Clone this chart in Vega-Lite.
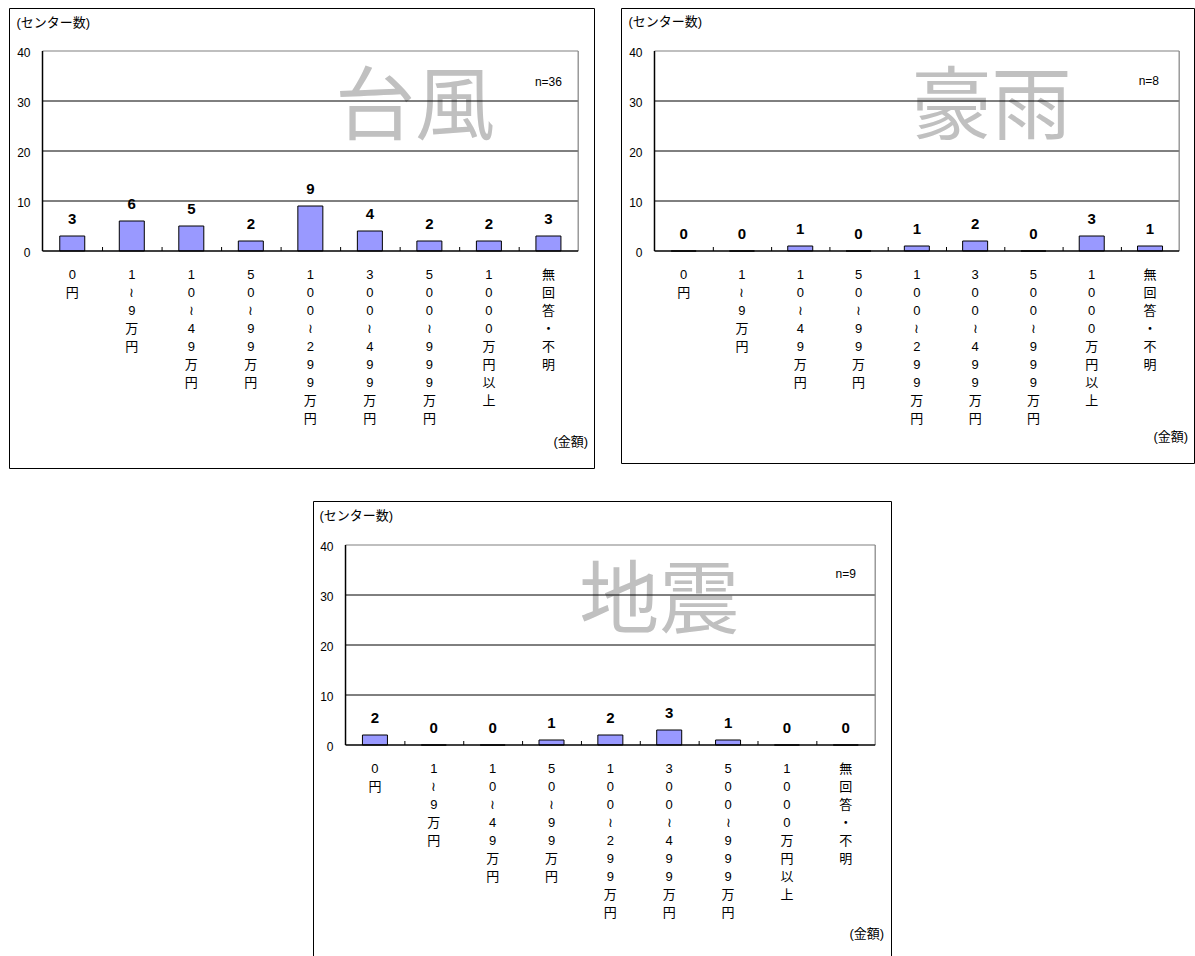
{
  "$schema": "https://vega.github.io/schema/vega-lite/v6.json",
  "background": "white",
  "padding": {"left": 8, "top": 7, "right": 2, "bottom": 0},
  "config": {
    "view": {"stroke": "#000", "strokeWidth": 1},
    "font": "Liberation Sans, Noto Sans CJK JP"
  },
  "datasets": {
    "bars": [
      {"hazard": "台風", "rank": 1, "cat": "0\n円", "count": 3},
      {"hazard": "台風", "rank": 2, "cat": "1\n≀\n9\n万\n円", "count": 6},
      {"hazard": "台風", "rank": 3, "cat": "1\n0\n≀\n4\n9\n万\n円", "count": 5},
      {"hazard": "台風", "rank": 4, "cat": "5\n0\n≀\n9\n9\n万\n円", "count": 2},
      {"hazard": "台風", "rank": 5, "cat": "1\n0\n0\n≀\n2\n9\n9\n万\n円", "count": 9},
      {"hazard": "台風", "rank": 6, "cat": "3\n0\n0\n≀\n4\n9\n9\n万\n円", "count": 4},
      {"hazard": "台風", "rank": 7, "cat": "5\n0\n0\n≀\n9\n9\n9\n万\n円", "count": 2},
      {"hazard": "台風", "rank": 8, "cat": "1\n0\n0\n0\n万\n円\n以\n上", "count": 2},
      {"hazard": "台風", "rank": 9, "cat": "無\n回\n答\n・\n不\n明", "count": 3},
      {"hazard": "豪雨", "rank": 1, "cat": "0\n円", "count": 0},
      {"hazard": "豪雨", "rank": 2, "cat": "1\n≀\n9\n万\n円", "count": 0},
      {"hazard": "豪雨", "rank": 3, "cat": "1\n0\n≀\n4\n9\n万\n円", "count": 1},
      {"hazard": "豪雨", "rank": 4, "cat": "5\n0\n≀\n9\n9\n万\n円", "count": 0},
      {"hazard": "豪雨", "rank": 5, "cat": "1\n0\n0\n≀\n2\n9\n9\n万\n円", "count": 1},
      {"hazard": "豪雨", "rank": 6, "cat": "3\n0\n0\n≀\n4\n9\n9\n万\n円", "count": 2},
      {"hazard": "豪雨", "rank": 7, "cat": "5\n0\n0\n≀\n9\n9\n9\n万\n円", "count": 0},
      {"hazard": "豪雨", "rank": 8, "cat": "1\n0\n0\n0\n万\n円\n以\n上", "count": 3},
      {"hazard": "豪雨", "rank": 9, "cat": "無\n回\n答\n・\n不\n明", "count": 1},
      {"hazard": "地震", "rank": 1, "cat": "0\n円", "count": 2},
      {"hazard": "地震", "rank": 2, "cat": "1\n≀\n9\n万\n円", "count": 0},
      {"hazard": "地震", "rank": 3, "cat": "1\n0\n≀\n4\n9\n万\n円", "count": 0},
      {"hazard": "地震", "rank": 4, "cat": "5\n0\n≀\n9\n9\n万\n円", "count": 1},
      {"hazard": "地震", "rank": 5, "cat": "1\n0\n0\n≀\n2\n9\n9\n万\n円", "count": 2},
      {"hazard": "地震", "rank": 6, "cat": "3\n0\n0\n≀\n4\n9\n9\n万\n円", "count": 3},
      {"hazard": "地震", "rank": 7, "cat": "5\n0\n0\n≀\n9\n9\n9\n万\n円", "count": 1},
      {"hazard": "地震", "rank": 8, "cat": "1\n0\n0\n0\n万\n円\n以\n上", "count": 0},
      {"hazard": "地震", "rank": 9, "cat": "無\n回\n答\n・\n不\n明", "count": 0}
    ],
    "yticks": [{"v": 0}, {"v": 10}, {"v": 20}, {"v": 30}, {"v": 40}]
  },
  "vconcat": [
    {
      "hconcat": [
        {
          "width": 585,
          "height": 460,
          "data": {"values": [{}]},
          "layer": [
            {"data": {"name": "bars"}, "transform": [{"filter": "datum.hazard === '台風' && datum.rank === 1"}],
             "mark": {"type": "text", "fontSize": 80, "color": "#c0c0c0", "align": "center", "baseline": "middle"},
             "encoding": {"x": {"datum": 6.76, "type": "quantitative", "scale": {"domain": [0.0211, 9.6817], "nice": false, "zero": false}, "axis": null},
                          "y": {"datum": 28.4, "type": "quantitative", "scale": {"domain": [-43.4, 48.6], "nice": false, "zero": false}, "axis": null},
                          "text": {"field": "hazard"}}},
            {"data": {"name": "yticks"}, "transform": [{"filter": "datum.v > 0 && datum.v < 40"}],
             "mark": {"type": "rule", "color": "#000", "strokeWidth": 1},
             "encoding": {"x": {"datum": 0.5, "type": "quantitative", "scale": {"domain": [0.0211, 9.6817], "nice": false, "zero": false}, "axis": null},
                          "x2": {"datum": 9.5},
                          "y": {"field": "v", "type": "quantitative", "scale": {"domain": [-43.4, 48.6], "nice": false, "zero": false}, "axis": null}}},
            {"mark": {"type": "rule", "color": "#808080", "strokeWidth": 1.2},
             "encoding": {"x": {"datum": 0.5, "type": "quantitative", "scale": {"domain": [0.0211, 9.6817], "nice": false, "zero": false}, "axis": null},
                          "x2": {"datum": 9.5},
                          "y": {"datum": 40, "type": "quantitative", "scale": {"domain": [-43.4, 48.6], "nice": false, "zero": false}, "axis": null}}},
            {"mark": {"type": "rule", "color": "#808080", "strokeWidth": 1.2},
             "encoding": {"x": {"datum": 9.5, "type": "quantitative", "scale": {"domain": [0.0211, 9.6817], "nice": false, "zero": false}, "axis": null},
                          "y": {"datum": 0, "type": "quantitative", "scale": {"domain": [-43.4, 48.6], "nice": false, "zero": false}, "axis": null},
                          "y2": {"datum": 40}}},
            {"data": {"name": "bars"}, "transform": [{"filter": "datum.hazard === '台風'"}],
             "mark": {"type": "bar", "width": 25, "fill": "#9999ff", "stroke": "#000", "strokeWidth": 1},
             "encoding": {"x": {"field": "rank", "type": "quantitative", "scale": {"domain": [0.0211, 9.6817], "nice": false, "zero": false}, "axis": null},
                          "y": {"field": "count", "type": "quantitative", "scale": {"domain": [-43.4, 48.6], "nice": false, "zero": false}, "axis": null},
                          "y2": {"datum": 0}}},
            {"mark": {"type": "rule", "color": "#000", "strokeWidth": 1.5},
             "encoding": {"x": {"datum": 0.5, "type": "quantitative", "scale": {"domain": [0.0211, 9.6817], "nice": false, "zero": false}, "axis": null},
                          "y": {"datum": 0, "type": "quantitative", "scale": {"domain": [-43.4, 48.6], "nice": false, "zero": false}, "axis": null},
                          "y2": {"datum": 40}}},
            {"mark": {"type": "rule", "color": "#000", "strokeWidth": 1.5},
             "encoding": {"x": {"datum": 0.5, "type": "quantitative", "scale": {"domain": [0.0211, 9.6817], "nice": false, "zero": false}, "axis": null},
                          "x2": {"datum": 9.5},
                          "y": {"datum": 0, "type": "quantitative", "scale": {"domain": [-43.4, 48.6], "nice": false, "zero": false}, "axis": null}}},
            {"data": {"name": "bars"}, "transform": [{"filter": "datum.hazard === '台風' && datum.rank < 9"}],
             "mark": {"type": "rule", "color": "#000", "strokeWidth": 1, "xOffset": 30.28},
             "encoding": {"x": {"field": "rank", "type": "quantitative", "scale": {"domain": [0.0211, 9.6817], "nice": false, "zero": false}, "axis": null},
                          "y": {"datum": 0, "type": "quantitative", "scale": {"domain": [-43.4, 48.6], "nice": false, "zero": false}, "axis": null},
                          "y2": {"datum": 0.8}}},
            {"data": {"name": "bars"}, "transform": [{"filter": "datum.hazard === '台風'"}],
             "mark": {"type": "text", "fontSize": 15, "fontWeight": "bold", "align": "center", "baseline": "alphabetic", "dy": -12, "color": "#000"},
             "encoding": {"x": {"field": "rank", "type": "quantitative", "scale": {"domain": [0.0211, 9.6817], "nice": false, "zero": false}, "axis": null},
                          "y": {"field": "count", "type": "quantitative", "scale": {"domain": [-43.4, 48.6], "nice": false, "zero": false}, "axis": null},
                          "text": {"field": "count", "type": "quantitative"}}},
            {"data": {"name": "bars"}, "transform": [{"filter": "datum.hazard === '台風'"}],
             "mark": {"type": "text", "fontSize": 13, "align": "center", "baseline": "top", "lineBreak": "\n", "lineHeight": 18, "dy": 17.5, "color": "#000"},
             "encoding": {"x": {"field": "rank", "type": "quantitative", "scale": {"domain": [0.0211, 9.6817], "nice": false, "zero": false}, "axis": null},
                          "y": {"datum": 0, "type": "quantitative", "scale": {"domain": [-43.4, 48.6], "nice": false, "zero": false}, "axis": null},
                          "text": {"field": "cat", "type": "nominal"}}},
            {"data": {"name": "yticks"},
             "mark": {"type": "text", "fontSize": 12, "align": "right", "baseline": "middle", "dx": -12, "dy": 2, "color": "#000"},
             "encoding": {"x": {"datum": 0.5, "type": "quantitative", "scale": {"domain": [0.0211, 9.6817], "nice": false, "zero": false}, "axis": null},
                          "y": {"field": "v", "type": "quantitative", "scale": {"domain": [-43.4, 48.6], "nice": false, "zero": false}, "axis": null},
                          "text": {"field": "v", "type": "quantitative"}}},
            {"mark": {"type": "text", "text": "(センター数)", "fontSize": 13, "align": "left", "baseline": "middle", "dx": -26, "color": "#000"},
             "encoding": {"x": {"datum": 0.5, "type": "quantitative", "scale": {"domain": [0.0211, 9.6817], "nice": false, "zero": false}, "axis": null},
                          "y": {"datum": 45.6, "type": "quantitative", "scale": {"domain": [-43.4, 48.6], "nice": false, "zero": false}, "axis": null}}},
            {"mark": {"type": "text", "text": "(金額)", "fontSize": 13, "align": "right", "baseline": "middle", "dx": 10, "color": "#000"},
             "encoding": {"x": {"datum": 9.5, "type": "quantitative", "scale": {"domain": [0.0211, 9.6817], "nice": false, "zero": false}, "axis": null},
                          "y": {"datum": -38.2, "type": "quantitative", "scale": {"domain": [-43.4, 48.6], "nice": false, "zero": false}, "axis": null}}},
            {"mark": {"type": "text", "text": "n=36", "fontSize": 12, "align": "center", "baseline": "middle", "color": "#000"},
             "encoding": {"x": {"datum": 9.0, "type": "quantitative", "scale": {"domain": [0.0211, 9.6817], "nice": false, "zero": false}, "axis": null},
                          "y": {"datum": 33.9, "type": "quantitative", "scale": {"domain": [-43.4, 48.6], "nice": false, "zero": false}, "axis": null}}}
          ]
        },
        {
          "width": 573,
          "height": 455,
          "data": {"values": [{}]},
          "layer": [
            {"data": {"name": "bars"}, "transform": [{"filter": "datum.hazard === '豪雨' && datum.rank === 1"}],
             "mark": {"type": "text", "fontSize": 80, "color": "#c0c0c0", "align": "center", "baseline": "middle"},
             "encoding": {"x": {"datum": 6.28, "type": "quantitative", "scale": {"domain": [0.01124, 9.66854], "nice": false, "zero": false}, "axis": null},
                          "y": {"datum": 28.4, "type": "quantitative", "scale": {"domain": [-42.4, 48.6], "nice": false, "zero": false}, "axis": null},
                          "text": {"field": "hazard"}}},
            {"data": {"name": "yticks"}, "transform": [{"filter": "datum.v > 0 && datum.v < 40"}],
             "mark": {"type": "rule", "color": "#000", "strokeWidth": 1},
             "encoding": {"x": {"datum": 0.5, "type": "quantitative", "scale": {"domain": [0.01124, 9.66854], "nice": false, "zero": false}, "axis": null},
                          "x2": {"datum": 9.5},
                          "y": {"field": "v", "type": "quantitative", "scale": {"domain": [-42.4, 48.6], "nice": false, "zero": false}, "axis": null}}},
            {"mark": {"type": "rule", "color": "#808080", "strokeWidth": 1.2},
             "encoding": {"x": {"datum": 0.5, "type": "quantitative", "scale": {"domain": [0.01124, 9.66854], "nice": false, "zero": false}, "axis": null},
                          "x2": {"datum": 9.5},
                          "y": {"datum": 40, "type": "quantitative", "scale": {"domain": [-42.4, 48.6], "nice": false, "zero": false}, "axis": null}}},
            {"mark": {"type": "rule", "color": "#808080", "strokeWidth": 1.2},
             "encoding": {"x": {"datum": 9.5, "type": "quantitative", "scale": {"domain": [0.01124, 9.66854], "nice": false, "zero": false}, "axis": null},
                          "y": {"datum": 0, "type": "quantitative", "scale": {"domain": [-42.4, 48.6], "nice": false, "zero": false}, "axis": null},
                          "y2": {"datum": 40}}},
            {"data": {"name": "bars"}, "transform": [{"filter": "datum.hazard === '豪雨'"}],
             "mark": {"type": "bar", "width": 25, "fill": "#9999ff", "stroke": "#000", "strokeWidth": 1},
             "encoding": {"x": {"field": "rank", "type": "quantitative", "scale": {"domain": [0.01124, 9.66854], "nice": false, "zero": false}, "axis": null},
                          "y": {"field": "count", "type": "quantitative", "scale": {"domain": [-42.4, 48.6], "nice": false, "zero": false}, "axis": null},
                          "y2": {"datum": 0}}},
            {"mark": {"type": "rule", "color": "#000", "strokeWidth": 1.5},
             "encoding": {"x": {"datum": 0.5, "type": "quantitative", "scale": {"domain": [0.01124, 9.66854], "nice": false, "zero": false}, "axis": null},
                          "y": {"datum": 0, "type": "quantitative", "scale": {"domain": [-42.4, 48.6], "nice": false, "zero": false}, "axis": null},
                          "y2": {"datum": 40}}},
            {"mark": {"type": "rule", "color": "#000", "strokeWidth": 1.5},
             "encoding": {"x": {"datum": 0.5, "type": "quantitative", "scale": {"domain": [0.01124, 9.66854], "nice": false, "zero": false}, "axis": null},
                          "x2": {"datum": 9.5},
                          "y": {"datum": 0, "type": "quantitative", "scale": {"domain": [-42.4, 48.6], "nice": false, "zero": false}, "axis": null}}},
            {"data": {"name": "bars"}, "transform": [{"filter": "datum.hazard === '豪雨' && datum.rank < 9"}],
             "mark": {"type": "rule", "color": "#000", "strokeWidth": 1, "xOffset": 29.67},
             "encoding": {"x": {"field": "rank", "type": "quantitative", "scale": {"domain": [0.01124, 9.66854], "nice": false, "zero": false}, "axis": null},
                          "y": {"datum": 0, "type": "quantitative", "scale": {"domain": [-42.4, 48.6], "nice": false, "zero": false}, "axis": null},
                          "y2": {"datum": 0.8}}},
            {"data": {"name": "bars"}, "transform": [{"filter": "datum.hazard === '豪雨'"}],
             "mark": {"type": "text", "fontSize": 15, "fontWeight": "bold", "align": "center", "baseline": "alphabetic", "dy": -12, "color": "#000"},
             "encoding": {"x": {"field": "rank", "type": "quantitative", "scale": {"domain": [0.01124, 9.66854], "nice": false, "zero": false}, "axis": null},
                          "y": {"field": "count", "type": "quantitative", "scale": {"domain": [-42.4, 48.6], "nice": false, "zero": false}, "axis": null},
                          "text": {"field": "count", "type": "quantitative"}}},
            {"data": {"name": "bars"}, "transform": [{"filter": "datum.hazard === '豪雨'"}],
             "mark": {"type": "text", "fontSize": 13, "align": "center", "baseline": "top", "lineBreak": "\n", "lineHeight": 18, "dy": 17.5, "color": "#000"},
             "encoding": {"x": {"field": "rank", "type": "quantitative", "scale": {"domain": [0.01124, 9.66854], "nice": false, "zero": false}, "axis": null},
                          "y": {"datum": 0, "type": "quantitative", "scale": {"domain": [-42.4, 48.6], "nice": false, "zero": false}, "axis": null},
                          "text": {"field": "cat", "type": "nominal"}}},
            {"data": {"name": "yticks"},
             "mark": {"type": "text", "fontSize": 12, "align": "right", "baseline": "middle", "dx": -12, "dy": 2, "color": "#000"},
             "encoding": {"x": {"datum": 0.5, "type": "quantitative", "scale": {"domain": [0.01124, 9.66854], "nice": false, "zero": false}, "axis": null},
                          "y": {"field": "v", "type": "quantitative", "scale": {"domain": [-42.4, 48.6], "nice": false, "zero": false}, "axis": null},
                          "text": {"field": "v", "type": "quantitative"}}},
            {"mark": {"type": "text", "text": "(センター数)", "fontSize": 13, "align": "left", "baseline": "middle", "dx": -26, "color": "#000"},
             "encoding": {"x": {"datum": 0.5, "type": "quantitative", "scale": {"domain": [0.01124, 9.66854], "nice": false, "zero": false}, "axis": null},
                          "y": {"datum": 45.8, "type": "quantitative", "scale": {"domain": [-42.4, 48.6], "nice": false, "zero": false}, "axis": null}}},
            {"mark": {"type": "text", "text": "(金額)", "fontSize": 13, "align": "right", "baseline": "middle", "dx": 9, "color": "#000"},
             "encoding": {"x": {"datum": 9.5, "type": "quantitative", "scale": {"domain": [0.01124, 9.66854], "nice": false, "zero": false}, "axis": null},
                          "y": {"datum": -37.2, "type": "quantitative", "scale": {"domain": [-42.4, 48.6], "nice": false, "zero": false}, "axis": null}}},
            {"mark": {"type": "text", "text": "n=8", "fontSize": 12, "align": "center", "baseline": "middle", "color": "#000"},
             "encoding": {"x": {"datum": 8.98, "type": "quantitative", "scale": {"domain": [0.01124, 9.66854], "nice": false, "zero": false}, "axis": null},
                          "y": {"datum": 34.1, "type": "quantitative", "scale": {"domain": [-42.4, 48.6], "nice": false, "zero": false}, "axis": null}}}
          ]
        }
      ],
      "spacing": 27,
      "bounds": "flush"
    },
    {
      "hconcat": [
        {
          "width": 304,
          "height": 460,
          "view": {"stroke": null},
          "data": {"values": [{}]},
          "mark": {"type": "point", "opacity": 0},
          "encoding": {}
        },
        {
          "width": 578,
          "height": 460,
          "data": {"values": [{}]},
          "layer": [
            {"data": {"name": "bars"}, "transform": [{"filter": "datum.hazard === '地震' && datum.rank === 1"}],
             "mark": {"type": "text", "fontSize": 80, "color": "#c0c0c0", "align": "center", "baseline": "middle"},
             "encoding": {"x": {"datum": 5.83, "type": "quantitative", "scale": {"domain": [0.03247, 9.68367], "nice": false, "zero": false}, "axis": null},
                          "y": {"datum": 28.5, "type": "quantitative", "scale": {"domain": [-43.2, 48.8], "nice": false, "zero": false}, "axis": null},
                          "text": {"field": "hazard"}}},
            {"data": {"name": "yticks"}, "transform": [{"filter": "datum.v > 0 && datum.v < 40"}],
             "mark": {"type": "rule", "color": "#000", "strokeWidth": 1},
             "encoding": {"x": {"datum": 0.5, "type": "quantitative", "scale": {"domain": [0.03247, 9.68367], "nice": false, "zero": false}, "axis": null},
                          "x2": {"datum": 9.5},
                          "y": {"field": "v", "type": "quantitative", "scale": {"domain": [-43.2, 48.8], "nice": false, "zero": false}, "axis": null}}},
            {"mark": {"type": "rule", "color": "#808080", "strokeWidth": 1.2},
             "encoding": {"x": {"datum": 0.5, "type": "quantitative", "scale": {"domain": [0.03247, 9.68367], "nice": false, "zero": false}, "axis": null},
                          "x2": {"datum": 9.5},
                          "y": {"datum": 40, "type": "quantitative", "scale": {"domain": [-43.2, 48.8], "nice": false, "zero": false}, "axis": null}}},
            {"mark": {"type": "rule", "color": "#808080", "strokeWidth": 1.2},
             "encoding": {"x": {"datum": 9.5, "type": "quantitative", "scale": {"domain": [0.03247, 9.68367], "nice": false, "zero": false}, "axis": null},
                          "y": {"datum": 0, "type": "quantitative", "scale": {"domain": [-43.2, 48.8], "nice": false, "zero": false}, "axis": null},
                          "y2": {"datum": 40}}},
            {"data": {"name": "bars"}, "transform": [{"filter": "datum.hazard === '地震'"}],
             "mark": {"type": "bar", "width": 25, "fill": "#9999ff", "stroke": "#000", "strokeWidth": 1},
             "encoding": {"x": {"field": "rank", "type": "quantitative", "scale": {"domain": [0.03247, 9.68367], "nice": false, "zero": false}, "axis": null},
                          "y": {"field": "count", "type": "quantitative", "scale": {"domain": [-43.2, 48.8], "nice": false, "zero": false}, "axis": null},
                          "y2": {"datum": 0}}},
            {"mark": {"type": "rule", "color": "#000", "strokeWidth": 1.5},
             "encoding": {"x": {"datum": 0.5, "type": "quantitative", "scale": {"domain": [0.03247, 9.68367], "nice": false, "zero": false}, "axis": null},
                          "y": {"datum": 0, "type": "quantitative", "scale": {"domain": [-43.2, 48.8], "nice": false, "zero": false}, "axis": null},
                          "y2": {"datum": 40}}},
            {"mark": {"type": "rule", "color": "#000", "strokeWidth": 1.5},
             "encoding": {"x": {"datum": 0.5, "type": "quantitative", "scale": {"domain": [0.03247, 9.68367], "nice": false, "zero": false}, "axis": null},
                          "x2": {"datum": 9.5},
                          "y": {"datum": 0, "type": "quantitative", "scale": {"domain": [-43.2, 48.8], "nice": false, "zero": false}, "axis": null}}},
            {"data": {"name": "bars"}, "transform": [{"filter": "datum.hazard === '地震' && datum.rank < 9"}],
             "mark": {"type": "rule", "color": "#000", "strokeWidth": 1, "xOffset": 29.94},
             "encoding": {"x": {"field": "rank", "type": "quantitative", "scale": {"domain": [0.03247, 9.68367], "nice": false, "zero": false}, "axis": null},
                          "y": {"datum": 0, "type": "quantitative", "scale": {"domain": [-43.2, 48.8], "nice": false, "zero": false}, "axis": null},
                          "y2": {"datum": 0.8}}},
            {"data": {"name": "bars"}, "transform": [{"filter": "datum.hazard === '地震'"}],
             "mark": {"type": "text", "fontSize": 15, "fontWeight": "bold", "align": "center", "baseline": "alphabetic", "dy": -12, "color": "#000"},
             "encoding": {"x": {"field": "rank", "type": "quantitative", "scale": {"domain": [0.03247, 9.68367], "nice": false, "zero": false}, "axis": null},
                          "y": {"field": "count", "type": "quantitative", "scale": {"domain": [-43.2, 48.8], "nice": false, "zero": false}, "axis": null},
                          "text": {"field": "count", "type": "quantitative"}}},
            {"data": {"name": "bars"}, "transform": [{"filter": "datum.hazard === '地震'"}],
             "mark": {"type": "text", "fontSize": 13, "align": "center", "baseline": "top", "lineBreak": "\n", "lineHeight": 18, "dy": 17.5, "color": "#000"},
             "encoding": {"x": {"field": "rank", "type": "quantitative", "scale": {"domain": [0.03247, 9.68367], "nice": false, "zero": false}, "axis": null},
                          "y": {"datum": 0, "type": "quantitative", "scale": {"domain": [-43.2, 48.8], "nice": false, "zero": false}, "axis": null},
                          "text": {"field": "cat", "type": "nominal"}}},
            {"data": {"name": "yticks"},
             "mark": {"type": "text", "fontSize": 12, "align": "right", "baseline": "middle", "dx": -12, "dy": 2, "color": "#000"},
             "encoding": {"x": {"datum": 0.5, "type": "quantitative", "scale": {"domain": [0.03247, 9.68367], "nice": false, "zero": false}, "axis": null},
                          "y": {"field": "v", "type": "quantitative", "scale": {"domain": [-43.2, 48.8], "nice": false, "zero": false}, "axis": null},
                          "text": {"field": "v", "type": "quantitative"}}},
            {"mark": {"type": "text", "text": "(センター数)", "fontSize": 13, "align": "left", "baseline": "middle", "dx": -26, "color": "#000"},
             "encoding": {"x": {"datum": 0.5, "type": "quantitative", "scale": {"domain": [0.03247, 9.68367], "nice": false, "zero": false}, "axis": null},
                          "y": {"datum": 45.8, "type": "quantitative", "scale": {"domain": [-43.2, 48.8], "nice": false, "zero": false}, "axis": null}}},
            {"mark": {"type": "text", "text": "(金額)", "fontSize": 13, "align": "right", "baseline": "middle", "dx": 9, "color": "#000"},
             "encoding": {"x": {"datum": 9.5, "type": "quantitative", "scale": {"domain": [0.03247, 9.68367], "nice": false, "zero": false}, "axis": null},
                          "y": {"datum": -37.8, "type": "quantitative", "scale": {"domain": [-43.2, 48.8], "nice": false, "zero": false}, "axis": null}}},
            {"mark": {"type": "text", "text": "n=9", "fontSize": 12, "align": "center", "baseline": "middle", "color": "#000"},
             "encoding": {"x": {"datum": 9.0, "type": "quantitative", "scale": {"domain": [0.03247, 9.68367], "nice": false, "zero": false}, "axis": null},
                          "y": {"datum": 34.3, "type": "quantitative", "scale": {"domain": [-43.2, 48.8], "nice": false, "zero": false}, "axis": null}}}
          ]
        }
      ],
      "spacing": 0,
      "bounds": "flush"
    }
  ],
  "spacing": 31
}
